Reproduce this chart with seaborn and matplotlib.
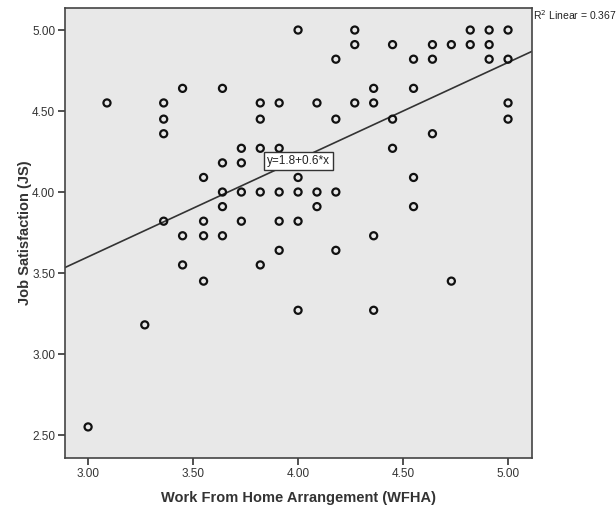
import numpy as np
import pandas as pd
import matplotlib
matplotlib.use('Agg')
import matplotlib.pyplot as plt
import seaborn as sns

# WFHA values (x) and JS values (y)
wfha = [3.00,
        3.09,
        3.27,
        3.36, 3.36, 3.36, 3.36,
        3.45, 3.45, 3.45,
        3.55, 3.55, 3.55, 3.55,
        3.64, 3.64, 3.64, 3.64, 3.64,
        3.73, 3.73, 3.73, 3.73,
        3.82, 3.82, 3.82, 3.82, 3.82,
        3.91, 3.91, 3.91, 3.91, 3.91,
        4.00, 4.00, 4.00, 4.00, 4.00,
        4.09, 4.09, 4.09,
        4.18, 4.18, 4.18, 4.18,
        4.27, 4.27, 4.27,
        4.36, 4.36, 4.36, 4.36,
        4.45, 4.45, 4.45,
        4.55, 4.55, 4.55, 4.55,
        4.64, 4.64, 4.64,
        4.73, 4.73,
        4.82, 4.82,
        4.91, 4.91, 4.91,
        5.00, 5.00, 5.00, 5.00]
js = [2.55,
      4.55,
      3.18,
      4.55, 4.45, 4.36, 3.82,
      4.64, 3.73, 3.55,
      4.09, 3.82, 3.73, 3.45,
      4.64, 4.18, 4.00, 3.91, 3.73,
      4.27, 4.18, 4.00, 3.82,
      4.55, 4.45, 4.27, 4.00, 3.55,
      4.55, 4.27, 4.00, 3.82, 3.64,
      5.00, 4.09, 4.00, 3.82, 3.27,
      4.55, 4.00, 3.91,
      4.82, 4.45, 4.00, 3.64,
      5.00, 4.91, 4.55,
      4.64, 4.55, 3.73, 3.27,
      4.91, 4.45, 4.27,
      4.82, 4.64, 4.09, 3.91,
      4.91, 4.82, 4.36,
      4.91, 3.45,
      5.00, 4.91,
      5.00, 4.91, 4.82,
      5.00, 4.82, 4.55, 4.45]

# fit line as reported on the chart (many cases overlap on the grid)
fit_intercept = 1.8
fit_slope = 0.6

x_ticks = [3.0, 3.5, 4.0, 4.5, 5.0]
y_ticks = [2.5, 3.0, 3.5, 4.0, 4.5, 5.0]
eq_label = 'y=1.8+0.6*x'
r2_label = r'R$^2$ Linear = 0.367'

df = pd.DataFrame({'WFHA': wfha, 'JS': js})

sns.set_style('white')
plt.rcParams['font.family'] = ['Liberation Sans', 'DejaVu Sans']

fig = plt.figure(figsize=(6.16, 5.07), dpi=100)
ax = fig.add_axes([0.1055, 0.0966, 0.7581, 0.8876])
ax.set_facecolor('#e8e8e8')

sns.scatterplot(data=df, x='WFHA', y='JS', ax=ax, s=26, facecolors='none',
                edgecolor='#111111', linewidth=1.6, zorder=3)
ax.axline((0, fit_intercept), slope=fit_slope, color='#333333', lw=1.2, zorder=2)

ax.set_xlim(2.89, 5.114)
ax.set_ylim(2.358, 5.136)
ax.set_xticks(x_ticks)
ax.set_yticks(y_ticks)
ax.set_xticklabels([f'{t:.2f}' for t in x_ticks], fontsize=8.5, color='#333333')
ax.set_yticklabels([f'{t:.2f}' for t in y_ticks], fontsize=8.5, color='#333333')
ax.tick_params(axis='both', direction='out', length=5, width=1.2, color='#333333',
               bottom=True, left=True, pad=2)
for s in ax.spines.values():
    s.set_color('#444444')
    s.set_linewidth(1.2)

ax.set_xlabel('Work From Home Arrangement (WFHA)', fontsize=10.5, fontweight='bold',
              color='#333333', labelpad=8)
ax.set_ylabel('Job Satisfaction (JS)', fontsize=10.5, fontweight='bold',
              color='#333333', labelpad=0)

ax.text(4.0, 4.19, eq_label, ha='center', va='center', fontsize=8.5, color='#222222',
        bbox=dict(boxstyle='square,pad=0.25', fc='white', ec='#333333', lw=1.0), zorder=4)
ax.text(1.002, 0.985, r2_label, transform=ax.transAxes, ha='left', va='center',
        fontsize=7.5, color='#222222')

fig.savefig('out.png', dpi=100)
